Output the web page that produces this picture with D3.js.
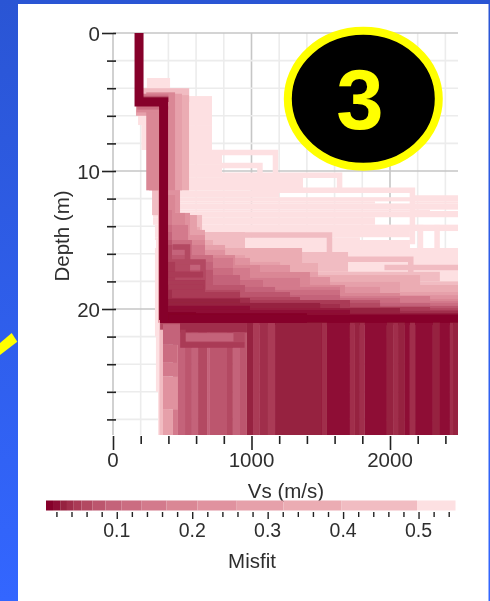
<!DOCTYPE html>
<html>
<head>
<meta charset="utf-8">
<script src="https://cdn.jsdelivr.net/npm/d3@7"></script>
<style>
  html, body { margin: 0; padding: 0; background: #2f5fe8; overflow: hidden; }
  text { font-family: "Liberation Sans", Arial, sans-serif; fill: #2e2e2e; }
</style>
</head>
<body>
<div id="chart"></div>
<script>
'use strict'

const width = 490
const height = 601

// colour bar
const misfitBreaks = [0.0062, 0.0155, 0.025, 0.034, 0.043, 0.053, 0.068, 0.085, 0.106, 0.133, 0.166, 0.207, 0.259, 0.321, 0.398, 0.498, 0.549]
const misfitColors = ['#860329', '#8e1135', '#96203f', '#a02e4b', '#aa3a56', '#b34862', '#bc566e', '#c4637a',
  '#cb6d81', '#d37a8c', '#da8795', '#e0929f', '#e6a0aa', '#ebacb3', '#f1bcc2', '#fde0e2']
const misfitTicks = [0.02, 0.04, 0.06, 0.08, 0.1, 0.12, 0.14, 0.16, 0.18, 0.2, 0.22, 0.24, 0.26, 0.28, 0.3, 0.32, 0.34,
  0.36, 0.38, 0.4, 0.42, 0.44, 0.46, 0.48, 0.5, 0.52, 0.54]
const misfitLabels = [0.1, 0.2, 0.3, 0.4, 0.5]

// axes
const vsTicks = [0, 200, 400, 600, 800, 1000, 1200, 1400, 1600, 1800, 2000, 2200, 2400]
const vsLabels = [0, 1000, 2000]
const depthTicks = [0, 2, 4, 6, 8, 10, 12, 14, 16, 18, 20, 22, 24, 26, 28]
const depthLabels = [0, 10, 20]

// right edge of each misfit class, [depth it starts at, Vs]
const stairs = [
  [[20.22, 600], [20.3, 1400], [20.43, 2500]],
  [[19.56, 397], [19.78, 989], [20.07, 1711], [20.36, 2500]],
  [[19.27, 917], [19.56, 1495], [19.93, 2072], [20.29, 2500]],
  [[18.26, 426], [19.2, 989], [19.64, 1639], [20.14, 2500]],
  [[16.59, 448], [17.9, 664], [18.77, 917], [19.35, 1711], [19.85, 2289], [20.07, 2500]],
  [[15.36, 426], [16.59, 556], [17.54, 664], [18.62, 917], [19.13, 1350], [19.56, 1928], [19.93, 2500]],
  [[15, 426], [16.09, 556], [17.17, 722], [18.26, 953], [18.77, 1278], [19.35, 1928], [19.78, 2500]],
  [[14.42, 426], [15.36, 556], [16.59, 722], [17.54, 917], [18.4, 1170], [18.99, 1639], [19.56, 2289], [19.78, 2500]],
  [[13.91, 426], [15, 570], [16.09, 722], [17.03, 866], [17.9, 1083], [18.62, 1639], [19.2, 2072], [19.56, 2500]],
  [[12.83, 426], [13.91, 542], [15.36, 664], [16.3, 866], [17.03, 989], [17.75, 1350], [18.4, 1639], [19.06, 2289], [19.42, 2500]],
  [[11.74, 448], [13.04, 520], [15, 664], [16.09, 881], [16.81, 1061], [17.32, 1422], [18.26, 1675], [18.84, 2072], [19.27, 2500]],
  [[11.38, 484], [13.04, 556], [14.64, 664], [15.72, 809], [16.3, 989], [16.81, 1278], [17.68, 1567], [18.4, 1928], [19, 2500]],
  [[13.19, 606], [14.27, 664], [15.36, 809], [16.09, 953], [16.59, 1206], [17.32, 1480], [18.04, 2072], [18.77, 2500]],
  [[14.06, 628], [15, 722], [15.58, 1365], [16.67, 1480], [17.54, 2217], [18.26, 2500]],
  [[13.19, 643], [14.42, 953], [15.58, 1365], [15.87, 1697], [17.3, 2360], [18, 2500]]
]
const stairBottom = 21.16

// worst class as [bin, depth top, depth bottom, Vs left, Vs right]
const paleBlocks = [
  [15, 3.26, 3.99, 245, 412], [15, 3.99, 4.57, 181, 505], [15, 4.57, 5.58, 166, 715], [15, 5.58, 6.67, 181, 715],
  [15, 6.67, 8.48, 205, 715], [15, 8.48, 9.56, 245, 787], [15, 9.56, 10.5, 267, 787], [15, 10.5, 11.4, 281, 1372],
  [15, 11.4, 11.9, 289, 1200], [15, 11.9, 12.2, 289, 2500], [15, 12.2, 12.35, 289, 1892], [15, 12.2, 12.35, 2181, 2500],
  [15, 12.35, 12.8, 289, 2500], [15, 12.8, 12.95, 289, 2289], [15, 12.95, 13.35, 289, 2500], [15, 13.35, 13.9, 289, 1892],
  [15, 13.9, 14.35, 303, 2500], [15, 14.35, 14.8, 303, 2144], [15, 14.8, 15, 303, 1783], [15, 15, 15.58, 310, 2144],
  [15, 15.58, 22, 303, 2500], [15, 22, 26, 310, 400], [15, 26, 29.13, 325, 400]
]

// pink blocks hugging the best profile
const coreBlocks = [
  [14, 4, 5, 217, 550], [13, 4.5, 11.4, 280, 549], [12, 4.4, 11.4, 260, 498], [10, 4.3, 11.4, 240, 448],
  [12, 5.3, 6, 166, 400], [10, 5.3, 5.75, 170, 400], [8, 5.3, 5.55, 175, 400], [14, 6, 13.2, 282, 400], [12, 6, 21, 325, 400],
  [9, 4.4, 5, 217, 400], [6, 4.55, 5, 217, 400], [3, 4.65, 5, 217, 400]
]

// half-space of each model below the last interface
const stripeEdges = [433, 469, 520, 570, 614, 679, 700, 823, 866, 917, 967, 1011, 1061, 1119, 1170, 1509, 1545, 1711, 1747,
  1783, 1819, 1978, 2022, 2058, 2108, 2144, 2181, 2310, 2361, 2433, 2455, 2500]
const stripeBins = [9, 7, 6, 7, 5, 7, 6, 5, 7, 6, 2, 4, 3, 4, 2, 3, 1, 3, 2, 3, 1, 2, 3, 2, 1, 3, 1, 2, 1, 3, 2]
const stripeTop = 20.9
const depthMax = 29.13

// left wedge and box that sit on the stripes
const wedgeBlocks = [
  [14, 21, 29.13, 335, 361], [5, 21, 21.5, 340, 484], [7, 21.1, 22.6, 361, 484], [8, 22.6, 23.9, 361, 462],
  [9, 23.9, 24.9, 361, 462], [11, 24.9, 27.3, 361, 469], [12, 27.3, 29.13, 361, 433],
  [3, 21, 21.7, 484, 967], [5, 21.7, 22.5, 505, 950], [7, 21.75, 22.35, 520, 870]
]

// single models drawn as lines, [bin, points]
const modelLines = [
  [15, [[715, 8.66], [1173, 8.66], [1173, 10.3]]],
  [15, [[787, 9.6], [1061, 9.6], [1061, 10.3]]],
  [15, [[787, 10.3], [1636, 10.3], [1636, 11.4]]],
  [15, [[1000, 11.4], [2162, 11.4], [2162, 15.3]]],
  [15, [[2162, 11.95], [2500, 11.95]]],
  [15, [[2162, 13.1], [2500, 13.1]]],
  [15, [[1892, 14.1], [2500, 14.1]]],
  [15, [[2340, 13.9], [2340, 15.6]]],
  [15, [[2220, 13.9], [2220, 15.6]]],
  [14, [[787, 14.64], [1563, 14.64], [1563, 15.9]]],
  [14, [[1365, 16.4], [2150, 16.4], [2150, 17.9]]],
  [14, [[1960, 17], [2500, 17]]],
  [5, [[430, 15.5], [538, 15.5], [538, 16.6]]],
  [5, [[400, 16.59], [650, 16.59], [650, 18.6]]],
  [4, [[400, 17.5], [650, 17.5]]],
  [4, [[400, 18.4], [650, 18.4]]],
  [4, [[505, 21.5], [505, 22.6], [950, 22.6]]]
]

const bestModel = [[188, -1], [188, 5], [365, 5], [365, 20.8]]

const x = d3.scaleLinear().domain([0, 2491]).range([113, 458])
const y = d3.scaleLinear().domain([0, depthMax]).range([33, 435])
const c = d3.scaleLinear().domain([misfitBreaks[0], misfitBreaks[misfitBreaks.length - 1]]).range([46, 455.5])

const svg = d3.select('#chart').append('svg')
    .attr('width', width)
    .attr('height', height)
    .style('display', 'block')

// slide background
const defs = svg.append('defs')
const grad = defs.append('linearGradient')
    .attr('id', 'slide')
    .attr('x1', 0).attr('y1', 0).attr('x2', 0).attr('y2', 1)
grad.append('stop').attr('offset', 0).attr('stop-color', '#2a55d4')
grad.append('stop').attr('offset', 1).attr('stop-color', '#3366ff')
defs.append('clipPath').attr('id', 'plot').append('rect')
    .attr('x', 113).attr('y', 33).attr('width', 345).attr('height', 402)
// the reference is an upscaled screenshot, soften to match
defs.append('filter')
    .attr('id', 'soft')
    .attr('filterUnits', 'userSpaceOnUse')
    .attr('x', 0).attr('y', 0).attr('width', width).attr('height', height)
  .append('feGaussianBlur')
    .attr('stdDeviation', 0.65)

svg.append('rect').attr('width', width).attr('height', height).attr('fill', 'url(#slide)')
svg.append('rect').attr('x', 18).attr('y', 4).attr('width', 470.5).attr('height', 597).attr('fill', '#fff')
svg.append('polygon')
    .attr('points', '0,343 11.7,333 17.3,341.7 0,355')
    .attr('fill', '#ff0')

const chart = svg.append('g').attr('filter', 'url(#soft)')

// grid
const grid = chart.append('g')
grid.selectAll('.gx').data(vsTicks)
  .enter().append('line')
    .attr('x1', d => x(d)).attr('x2', d => x(d))
    .attr('y1', y(0)).attr('y2', y(depthMax))
    .attr('stroke', d => d % 1000 === 0 ? '#c6c6c6' : '#ececec')
    .attr('stroke-width', 1.6)
grid.selectAll('.gy').data(depthTicks)
  .enter().append('line')
    .attr('x1', x(0)).attr('x2', 458)
    .attr('y1', d => y(d)).attr('y2', d => y(d))
    .attr('stroke', d => d % 10 === 0 ? '#c6c6c6' : '#ececec')
    .attr('stroke-width', 1.6)

const plot = chart.append('g').attr('clip-path', 'url(#plot)')

function drawBlocks(blocks) {
  plot.append('g').selectAll('rect')
      .data(blocks)
    .enter().append('rect')
      .attr('x', d => x(d[3]))
      .attr('width', d => x(d[4]) - x(d[3]))
      .attr('y', d => y(d[1]))
      .attr('height', d => y(d[2]) - y(d[1]))
      .attr('fill', d => misfitColors[d[0]])
}

function stairBlocks(bin) {
  const s = stairs[bin]
  return s.map(function(step, i) {
    const bottom = i < s.length - 1 ? s[i + 1][0] : stairBottom
    return [bin, step[0], bottom, 340, step[1]]
  })
}

const line = d3.line().x(d => x(d[0])).y(d => y(d[1]))

function drawLines(bin) {
  plot.append('g').selectAll('path')
      .data(modelLines.filter(d => d[0] === bin))
    .enter().append('path')
      .attr('d', d => line(d[1]))
      .attr('fill', 'none')
      .attr('stroke', misfitColors[bin])
      .attr('stroke-width', 5.5)
      .attr('stroke-linejoin', 'miter')
}

// worst models first, best on top
drawBlocks(paleBlocks)
drawLines(15)
for (let bin = 14; bin >= 1; bin--) {
  drawBlocks(coreBlocks.filter(d => d[0] === bin))
  drawBlocks(stairBlocks(bin))
  drawLines(bin)
}

plot.append('g').selectAll('rect')
    .data(stripeBins)
  .enter().append('rect')
    .attr('x', (d, i) => x(stripeEdges[i]))
    .attr('width', (d, i) => x(stripeEdges[i + 1]) - x(stripeEdges[i]))
    .attr('y', y(stripeTop))
    .attr('height', y(depthMax) - y(stripeTop))
    .attr('fill', d => misfitColors[d])

drawBlocks(wedgeBlocks)
drawLines(4)
drawBlocks(stairBlocks(0).map(d => [0, d[1], 21, d[3], d[4]]))

plot.append('path')
    .attr('d', line(bestModel))
    .attr('fill', 'none')
    .attr('stroke', misfitColors[0])
    .attr('stroke-width', 9)

// axes, major ticks are longer than minor ones
const axisLeft = d3.axisLeft(y)
    .tickValues(depthTicks)
    .tickSize(0)
    .tickFormat('')
const gLeft = chart.append('g').attr('transform', 'translate(116,0)').call(axisLeft)
gLeft.select('.domain').remove()
gLeft.selectAll('.tick line')
    .attr('x1', 0)
    .attr('x2', d => depthLabels.includes(d) ? -14 : -9)
    .attr('stroke', '#222')
    .attr('stroke-width', 1.6)
gLeft.selectAll('.tick text').remove()
chart.selectAll('.dlab').data(depthLabels)
  .enter().append('text')
    .attr('x', 100)
    .attr('y', d => y(d) + 8)
    .attr('text-anchor', 'end')
    .style('font-size', '20.5px')
    .text(d => d)

const axisBottom = d3.axisBottom(x)
    .tickValues(vsTicks)
    .tickSize(0)
    .tickFormat('')
const gBottom = chart.append('g').attr('transform', 'translate(0,436)').call(axisBottom)
gBottom.select('.domain').remove()
gBottom.selectAll('.tick line')
    .attr('y2', d => vsLabels.includes(d) ? 14 : 8)
    .attr('stroke', '#222')
    .attr('stroke-width', 1.6)
gBottom.selectAll('.tick text').remove()
chart.selectAll('.vlab').data(vsLabels)
  .enter().append('text')
    .attr('x', d => x(d))
    .attr('y', 467)
    .attr('text-anchor', 'middle')
    .style('font-size', '20.5px')
    .text(d => d)

chart.append('text')
    .attr('transform', 'translate(69,236) rotate(-90)')
    .attr('text-anchor', 'middle')
    .style('font-size', '20.5px')
    .text('Depth (m)')
chart.append('text')
    .attr('x', 286)
    .attr('y', 498)
    .attr('text-anchor', 'middle')
    .style('font-size', '20.5px')
    .text('Vs (m/s)')

// colour bar
chart.append('g').selectAll('rect')
    .data(misfitColors)
  .enter().append('rect')
    .attr('x', (d, i) => c(misfitBreaks[i]))
    .attr('width', (d, i) => c(misfitBreaks[i + 1]) - c(misfitBreaks[i]))
    .attr('y', 500.5)
    .attr('height', 10)
    .attr('fill', d => d)

const axisBar = d3.axisBottom(c)
    .tickValues(misfitTicks)
    .tickSize(0)
    .tickFormat('')
const gBar = chart.append('g').attr('transform', 'translate(0,512)').call(axisBar)
gBar.select('.domain').remove()
gBar.selectAll('.tick line')
    .attr('y2', d => misfitLabels.includes(d) ? 7 : 5)
    .attr('stroke', '#222')
    .attr('stroke-width', 1.4)
gBar.selectAll('.tick text').remove()
chart.selectAll('.mlab').data(misfitLabels)
  .enter().append('text')
    .attr('x', d => c(d))
    .attr('y', 537)
    .attr('text-anchor', 'middle')
    .style('font-size', '19.5px')
    .text(d => d.toFixed(1))
chart.append('text')
    .attr('x', 252)
    .attr('y', 568)
    .attr('text-anchor', 'middle')
    .style('font-size', '20.5px')
    .text('Misfit')

// numbered badge
svg.append('ellipse')
    .attr('cx', 363.3)
    .attr('cy', 98.8)
    .attr('rx', 75.5)
    .attr('ry', 68)
    .attr('fill', '#000')
    .attr('stroke', '#ff0')
    .attr('stroke-width', 8)
svg.append('text')
    .attr('x', 360)
    .attr('y', 128.5)
    .attr('text-anchor', 'middle')
    .style('font-size', '85px')
    .style('font-weight', 'bold')
    .style('fill', '#ff0')
    .text('3')
</script>
</body>
</html>
